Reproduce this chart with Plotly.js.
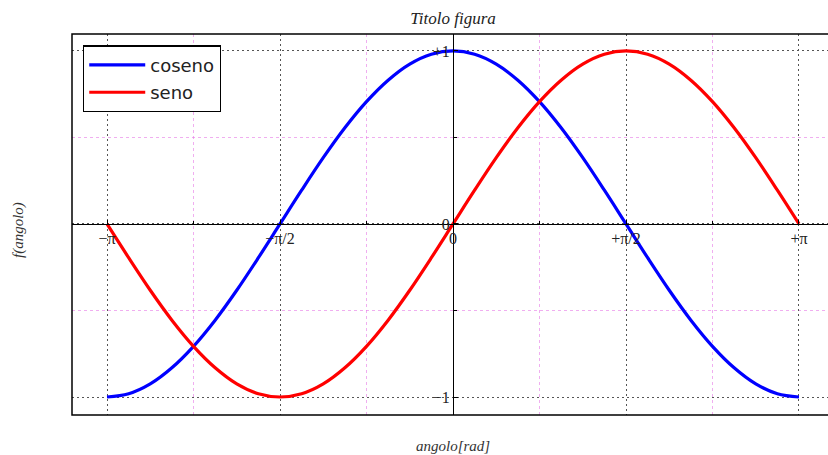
<!DOCTYPE html>
<html><head><meta charset="utf-8">
<script src="https://cdn.plot.ly/plotly-3.0.1.min.js"></script>
<style>html,body{margin:0;padding:0;overflow:hidden;background:#fff}</style>
</head><body><div id="chart" style="width:828px;height:455px"></div>
<script>
const angolo = [-3.1416,-2.9452,-2.7489,-2.5525,-2.3562,-2.1598,-1.9635,-1.7671,-1.5708,-1.3744,-1.1781,-0.9817,-0.7854,-0.5890,-0.3927,-0.1963,0,0.1963,0.3927,0.5890,0.7854,0.9817,1.1781,1.3744,1.5708,1.7671,1.9635,2.1598,2.3562,2.5525,2.7489,2.9452,3.1416];
const coseno = [-1,-0.981,-0.924,-0.831,-0.707,-0.556,-0.383,-0.195,0,0.195,0.383,0.556,0.707,0.831,0.924,0.981,1,0.981,0.924,0.831,0.707,0.556,0.383,0.195,0,-0.195,-0.383,-0.556,-0.707,-0.831,-0.924,-0.981,-1];
const seno = [0,-0.195,-0.383,-0.556,-0.707,-0.831,-0.924,-0.981,-1,-0.981,-0.924,-0.831,-0.707,-0.556,-0.383,-0.195,0,0.195,0.383,0.556,0.707,0.831,0.924,0.981,1,0.981,0.924,0.831,0.707,0.556,0.383,0.195,0];
const xTickVals = [-3.14159,-1.5708,0,1.5708,3.14159];
const xTickText = ['−π','−π/2','0','+π/2','+π'];
const xMinorVals = [-2.35619,-0.785398,0.785398,2.35619];
const yTickVals = [-1,0,1];
const yTickText = ['−1','0','+1'];
const yMinorVals = [-0.5,0.5];

const serif = 'Liberation Serif, DejaVu Serif, serif';
const traces = [
  {x: angolo, y: coseno, name: 'coseno', legendgroup: 'a', mode: 'lines', line: {color: '#0000ff', width: 3.2, shape: 'spline'}},
  {x: angolo, y: seno, name: 'seno', legendgroup: 'b', mode: 'lines', line: {color: '#ff0000', width: 3.2, shape: 'spline'}}
];
const xr = [-3.4595, 3.405], yr = [-1.104, 1.098];
const layout = {
  width: 828, height: 455,
  margin: {l: 72, r: 0, t: 34, b: 40},
  paper_bgcolor: '#fff', plot_bgcolor: '#fff',
  showlegend: true,
  legend: {x: 0.0146, y: 0.97, xanchor: 'left', yanchor: 'top', bgcolor: '#fff', bordercolor: '#000', borderwidth: 1.2,
    itemwidth: 56, tracegroupgap: 1,
    font: {family: 'DejaVu Sans, sans-serif', size: 18, color: '#222'}},
  title: {text: 'Titolo figura', x: 453/828, xref: 'container', xanchor: 'center', y: 1 - 18/455, yref: 'container', yanchor: 'middle',
    font: {family: serif, size: 17, style: 'italic', color: '#222'}},
  xaxis: {
    range: xr, anchor: 'free', position: -yr[0]/(yr[1]-yr[0]),
    showline: true, linecolor: '#000', linewidth: 1.2, zeroline: false,
    tickmode: 'array', tickvals: xTickVals, ticktext: xTickText, ticks: 'inside', ticklen: 4, tickcolor: '#000',
    tickfont: {family: serif, size: 16, color: '#222'},
    showgrid: true, gridcolor: '#555', griddash: '2px,3px', gridwidth: 1,
    minor: {tickmode: 'array', tickvals: xMinorVals, showgrid: true, gridcolor: 'rgba(230,120,230,0.6)', griddash: '3px,3px', gridwidth: 1, ticks: 'inside', ticklen: 3, tickcolor: '#000'},
    fixedrange: true
  },
  yaxis: {
    range: yr, anchor: 'free', position: -xr[0]/(xr[1]-xr[0]),
    showline: true, linecolor: '#000', linewidth: 1.2, zeroline: false,
    tickmode: 'array', tickvals: yTickVals, ticktext: yTickText, ticks: 'inside', ticklen: 4, tickcolor: '#000',
    tickfont: {family: serif, size: 16, color: '#222'},
    showgrid: true, gridcolor: '#555', griddash: '2px,3px', gridwidth: 1,
    minor: {tickmode: 'array', tickvals: yMinorVals, showgrid: true, gridcolor: 'rgba(230,120,230,0.6)', griddash: '3px,3px', gridwidth: 1, ticks: 'inside', ticklen: 3, tickcolor: '#000'},
    fixedrange: true
  },
  shapes: [
    {type: 'rect', xref: 'paper', yref: 'paper', x0: 0, x1: 1.03, y0: 0, y1: 1, line: {color: '#000', width: 1.5}, fillcolor: 'rgba(0,0,0,0)', layer: 'above'}
  ],
  annotations: [
    {text: 'angolo[rad]', xref: 'paper', yref: 'paper', x: (453-72)/756, y: -31/381, xanchor: 'center', yanchor: 'middle', showarrow: false,
      font: {family: serif, size: 15, style: 'italic', color: '#333'}},
    {text: 'f(angolo)', xref: 'paper', yref: 'paper', x: -54/756, y: (415-230)/381, xanchor: 'center', yanchor: 'middle', showarrow: false, textangle: -90,
      font: {family: serif, size: 15, style: 'italic', color: '#333'}}
  ]
};
Plotly.newPlot('chart', traces, layout, {displayModeBar: false, staticPlot: true});
</script></body></html>
